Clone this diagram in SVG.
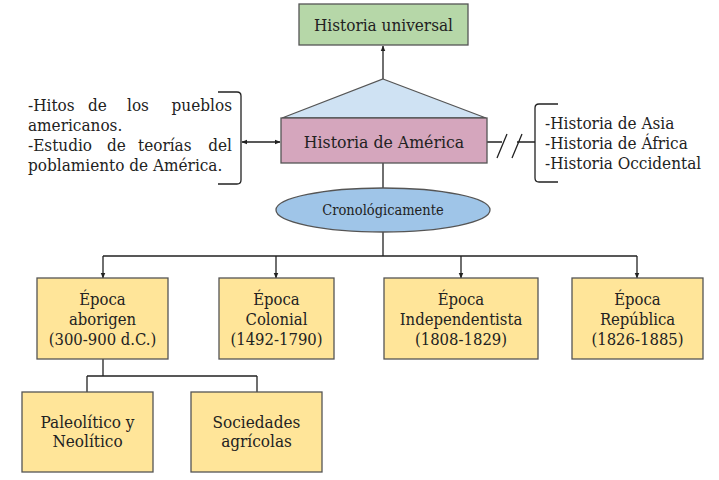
<svg xmlns="http://www.w3.org/2000/svg" width="719" height="480" viewBox="0 0 719 480">
<defs>
<marker id="ah" viewBox="0 0 10 10" refX="9" refY="5" markerWidth="6" markerHeight="6" orient="auto-start-reverse" markerUnits="userSpaceOnUse">
<path d="M0,1 L10,5 L0,9 z" fill="#222"/>
</marker>
<style>
text{font-family:"Roboto Slab","DejaVu Serif Condensed","DejaVu Serif",serif;font-stretch:condensed;fill:#222}
.box{stroke:#555;stroke-width:1.3}
.c{text-anchor:middle}
.ln{fill:none;stroke:#222;stroke-width:1.3}
.ep{fill:#ffe599}
</style>
</defs>
<rect width="719" height="480" fill="#fff"/>
<g id="connectors">
<path class="ln" d="M383,79 V46" marker-end="url(#ah)"/>
<path class="ln" d="M383,163 V188"/>
<path class="ln" d="M383,232 V256 M103,256 H637"/>
<path class="ln" d="M103,256 V278" marker-end="url(#ah)"/>
<path class="ln" d="M276,256 V278" marker-end="url(#ah)"/>
<path class="ln" d="M461,256 V278" marker-end="url(#ah)"/>
<path class="ln" d="M637,256 V278" marker-end="url(#ah)"/>
<path class="ln" d="M103,359 V376 M87,376 H257 M87,376 V392 M257,376 V392"/>
<path class="ln" d="M242,142 H280" marker-start="url(#ah)" marker-end="url(#ah)"/>
<path class="ln" d="M487,142 H502 M497,158 L507,134 M512,158 L522,134 M517,142 H535"/>
</g>
<g id="historia-universal">
<rect class="box" x="299" y="4" width="169" height="41" fill="#b6d7a8"/>
<text class="c" x="383.5" y="31" font-size="17">Historia universal</text>
</g>
<g id="triangulo">
<path class="box" d="M383,79 L486,118 L282,118 Z" fill="#cfe2f3" stroke="#333"/>
</g>
<g id="historia-america">
<rect class="box" x="281" y="118" width="206" height="45" fill="#d5a6bd" stroke="#333"/>
<text class="c" x="384" y="148" font-size="17.5">Historia de América</text>
</g>
<g id="cronologicamente">
<ellipse class="box" cx="383" cy="210" rx="107" ry="22" fill="#9fc5e8" stroke="#333"/>
<text class="c" x="383" y="215" font-size="14.5">Cronológicamente</text>
</g>
<g id="nota-izquierda">
<path class="ln" d="M218,92 H237 Q241,92 241,96 V180 Q241,184 237,184 H218"/>
<text font-size="17"><tspan x="28" y="111">-Hitos</tspan><tspan x="88" y="111">de</tspan><tspan x="127" y="111">los</tspan><tspan x="232" y="111" text-anchor="end">pueblos</tspan><tspan x="28" y="131">americanos.</tspan><tspan x="28" y="151">-Estudio</tspan><tspan x="107" y="151">de</tspan><tspan x="138" y="151">teorías</tspan><tspan x="232" y="151" text-anchor="end">del</tspan><tspan x="28" y="171">poblamiento de América.</tspan></text>
</g>
<g id="nota-derecha">
<path class="ln" d="M558,104 H539 Q535,104 535,108 V178 Q535,182 539,182 H558"/>
<text font-size="17"><tspan x="545" y="129">-Historia de Asia</tspan><tspan x="545" y="149">-Historia de África</tspan><tspan x="545" y="169">-Historia Occidental</tspan></text>
</g>
<g id="epoca-aborigen">
<rect class="box ep" x="37" y="278" width="131" height="81"/>
<text class="c" font-size="16.5"><tspan x="102.5" y="305">Época</tspan><tspan x="102.5" y="325">aborigen</tspan><tspan x="102.5" y="345">(300-900 d.C.)</tspan></text>
</g>
<g id="epoca-colonial">
<rect class="box ep" x="219" y="278" width="115" height="81"/>
<text class="c" font-size="16.5"><tspan x="276.5" y="305">Época</tspan><tspan x="276.5" y="325">Colonial</tspan><tspan x="276.5" y="345">(1492-1790)</tspan></text>
</g>
<g id="epoca-independentista">
<rect class="box ep" x="384" y="278" width="154" height="81"/>
<text class="c" font-size="16.5"><tspan x="461" y="305">Época</tspan><tspan x="461" y="325">Independentista</tspan><tspan x="461" y="345">(1808-1829)</tspan></text>
</g>
<g id="epoca-republica">
<rect class="box ep" x="572" y="278" width="131" height="81"/>
<text class="c" font-size="16.5"><tspan x="637.5" y="305">Época</tspan><tspan x="637.5" y="325">República</tspan><tspan x="637.5" y="345">(1826-1885)</tspan></text>
</g>
<g id="paleolitico">
<rect class="box ep" x="22" y="392" width="131" height="80"/>
<text class="c" font-size="17"><tspan x="87.5" y="428">Paleolítico y</tspan><tspan x="87.5" y="447">Neolítico</tspan></text>
</g>
<g id="sociedades">
<rect class="box ep" x="191" y="392" width="131" height="80"/>
<text class="c" font-size="17"><tspan x="256.5" y="428">Sociedades</tspan><tspan x="256.5" y="447">agrícolas</tspan></text>
</g>
</svg>
